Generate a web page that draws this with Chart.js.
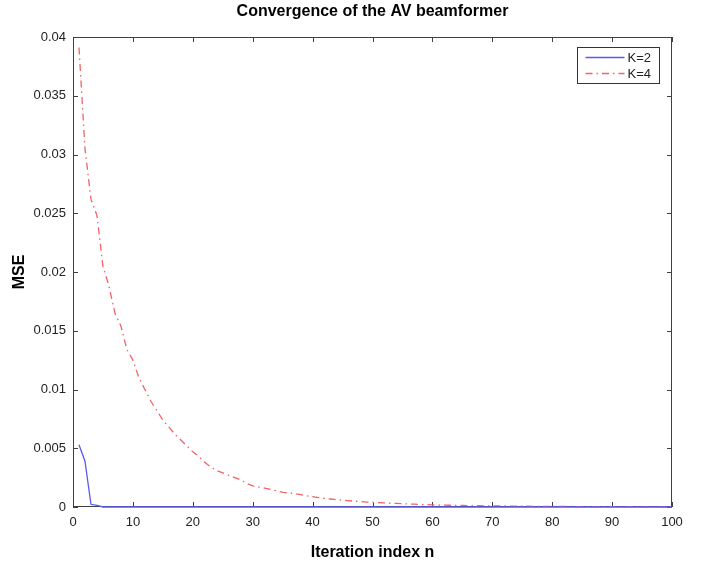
<!DOCTYPE html>
<html lang="en">
<head>
  <meta charset="UTF-8">
  <title>Convergence of the AV beamformer</title>
  <script src="https://cdn.jsdelivr.net/npm/chart.js"></script>
  <style>
    html, body { margin: 0; padding: 0; background: #fff; }
    #wrap { width: 713px; height: 566px; }
  </style>
</head>
<body>
  <div id="wrap"><canvas id="mseChart"></canvas></div>

  <script>
    // iteration index n = 1..100
    const iterations = [
      1, 2, 3, 4, 5, 6, 7, 8, 9, 10,
      11, 12, 13, 14, 15, 16, 17, 18, 19, 20,
      21, 22, 23, 24, 25, 26, 27, 28, 29, 30,
      31, 32, 33, 34, 35, 36, 37, 38, 39, 40,
      41, 42, 43, 44, 45, 46, 47, 48, 49, 50,
      51, 52, 53, 54, 55, 56, 57, 58, 59, 60,
      61, 62, 63, 64, 65, 66, 67, 68, 69, 70,
      71, 72, 73, 74, 75, 76, 77, 78, 79, 80,
      81, 82, 83, 84, 85, 86, 87, 88, 89, 90,
      91, 92, 93, 94, 95, 96, 97, 98, 99, 100
    ];

    // MSE, K=2 (blue solid)
    const mseK2 = [
      0.0053, 0.0039, 0.00023, 0.00014, 0, 0, 0, 0, 0, 0,
      0, 0, 0, 0, 0, 0, 0, 0, 0, 0,
      0, 0, 0, 0, 0, 0, 0, 0, 0, 0,
      0, 0, 0, 0, 0, 0, 0, 0, 0, 0,
      0, 0, 0, 0, 0, 0, 0, 0, 0, 0,
      0, 0, 0, 0, 0, 0, 0, 0, 0, 0,
      0, 0, 0, 0, 0, 0, 0, 0, 0, 0,
      0, 0, 0, 0, 0, 0, 0, 0, 0, 0,
      0, 0, 0, 0, 0, 0, 0, 0, 0, 0,
      0, 0, 0, 0, 0, 0, 0, 0, 0, 0
    ];

    // MSE, K=4 (red dash-dot)
    const mseK4 = [
      0.0391, 0.0305, 0.0262, 0.0248, 0.0205, 0.0188, 0.0165, 0.0154, 0.0134, 0.0125,
      0.0110, 0.0100, 0.0090, 0.0082, 0.0074, 0.0068, 0.0062, 0.0057, 0.0052, 0.0047,
      0.0043, 0.0038, 0.0034, 0.0031, 0.0029, 0.0027, 0.0025, 0.0023, 0.0020, 0.0018,
      0.0017, 0.0016, 0.0015, 0.00137, 0.00125, 0.0012, 0.00115, 0.00105, 0.00095, 0.00088,
      0.0008, 0.00073, 0.00068, 0.00062, 0.00058, 0.00053, 0.0005, 0.00046, 0.00042, 0.0004,
      0.00037, 0.00035, 0.00032, 0.0003, 0.00028, 0.00026, 0.00024, 0.00022, 0.0002, 0.00018,
      0.00017, 0.00016, 0.00015, 0.00014, 0.00013, 0.00012, 0.00011, 0.00011, 0.0001, 0.0001,
      0.00009, 0.00009, 0.00008, 0.00008, 0.00007, 0.00007, 0.00006, 0.00006, 0.00006, 0.00005,
      0.00005, 0.00005, 0.00005, 0.00004, 0.00004, 0.00004, 0.00004, 0.00004, 0.00003, 0.00003,
      0.00003, 0.00003, 0.00003, 0.00003, 0.00002, 0.00002, 0.00002, 0.00002, 0.00002, 0.00002
    ];

    const yTickLabels = ['0', '0.005', '0.01', '0.015', '0.02', '0.025', '0.03', '0.035', '0.04'];
    const seriesNames = ['K=2', 'K=4'];
    const chartTitle = 'Convergence of the AV beamformer';

    const axisColor = '#404040';
    const blue = '#5a5af2';
    const red = '#f26363';
    const dashDot = [7, 4, 1.5, 4];
    const fontFamily = '"Liberation Sans", Arial, Helvetica, sans-serif';

    // box + inward ticks drawn under the lines
    const matlabBox = {
      id: 'matlabBox',
      beforeDatasetsDraw(chart) {
        const { ctx, chartArea: a, scales } = chart;
        ctx.save();
        ctx.strokeStyle = axisColor;
        ctx.lineWidth = 1;
        ctx.strokeRect(a.left + 0.5, a.top + 0.5, a.right - a.left - 1, a.bottom - a.top - 1);

        const len = 5;
        ctx.beginPath();
        scales.x.ticks.forEach(t => {
          const px = Math.round(scales.x.getPixelForValue(t.value)) + 0.5;
          ctx.moveTo(px, a.bottom); ctx.lineTo(px, a.bottom - len);
          ctx.moveTo(px, a.top); ctx.lineTo(px, a.top + len);
        });
        scales.y.ticks.forEach(t => {
          const py = Math.round(scales.y.getPixelForValue(t.value)) + 0.5;
          ctx.moveTo(a.left, py); ctx.lineTo(a.left + len, py);
          ctx.moveTo(a.right, py); ctx.lineTo(a.right - len, py);
        });
        ctx.stroke();
        ctx.restore();
      },
      // title centred on the plot box, legend in the top-right corner
      afterDraw(chart) {
        const { ctx, chartArea: a } = chart;
        ctx.save();
        ctx.fillStyle = '#000';
        ctx.font = 'bold 16px ' + fontFamily;
        ctx.textAlign = 'center';
        ctx.textBaseline = 'middle';
        ctx.fillText(chartTitle, (a.left + a.right) / 2, 12);

        const bw = 82, bh = 36;
        const bx = a.right - 13 - bw + 0.5, by = a.top + 10 + 0.5;
        ctx.fillStyle = '#fff';
        ctx.fillRect(bx, by, bw, bh);
        ctx.strokeStyle = '#333';
        ctx.lineWidth = 1;
        ctx.strokeRect(bx, by, bw, bh);

        const items = [
          { name: seriesNames[0], color: blue, dash: [] },
          { name: seriesNames[1], color: red, dash: dashDot }
        ];
        ctx.font = '13px ' + fontFamily;
        ctx.textAlign = 'left';
        items.forEach((it, i) => {
          const ly = by + 10 + i * 16;
          ctx.beginPath();
          ctx.setLineDash(it.dash);
          ctx.strokeStyle = it.color;
          ctx.lineWidth = 1.3;
          ctx.moveTo(bx + 8, ly); ctx.lineTo(bx + 47, ly);
          ctx.stroke();
          ctx.setLineDash([]);
          ctx.fillStyle = '#222';
          ctx.fillText(it.name, bx + 50, ly + 1);
        });
        ctx.restore();
      }
    };

    new Chart(document.getElementById('mseChart'), {
      type: 'line',
      data: {
        datasets: [
          {
            label: seriesNames[0],
            data: iterations.map((n, i) => ({ x: n, y: mseK2[i] })),
            borderColor: blue,
            borderWidth: 1.3,
            pointRadius: 0,
            tension: 0,
            clip: 3
          },
          {
            label: seriesNames[1],
            data: iterations.map((n, i) => ({ x: n, y: mseK4[i] })),
            borderColor: red,
            borderWidth: 1.3,
            borderDash: dashDot,
            pointRadius: 0,
            tension: 0,
            clip: 3
          }
        ]
      },
      options: {
        responsive: true,
        maintainAspectRatio: false,
        animation: false,
        layout: { padding: { left: 6, right: 41, top: 37, bottom: 0 } },
        plugins: {
          legend: { display: false },
          tooltip: { enabled: false },
          title: { display: false }
        },
        scales: {
          x: {
            type: 'linear',
            min: 0, max: 100,
            grid: { display: false, drawTicks: false },
            border: { display: false },
            ticks: { stepSize: 10, color: '#222', padding: 8, maxRotation: 0,
                     font: { family: fontFamily, size: 13 } },
            title: { display: true, text: 'Iteration index n', color: '#000',
                     font: { family: fontFamily, size: 16, weight: 'bold' }, padding: { top: 10 } },
            afterFit(scale) { scale.height = 59; }
          },
          y: {
            min: 0, max: 0.04,
            grid: { display: false, drawTicks: false },
            border: { display: false },
            ticks: { stepSize: 0.005, color: '#222', padding: 7,
                     font: { family: fontFamily, size: 13 },
                     callback: (v, i) => yTickLabels[i] },
            title: { display: true, text: 'MSE', color: '#000',
                     font: { family: fontFamily, size: 16, weight: 'bold' }, padding: { bottom: 6 } },
            afterFit(scale) { scale.width = 67; }
          }
        }
      },
      plugins: [matlabBox]
    });
  </script>
</body>
</html>
